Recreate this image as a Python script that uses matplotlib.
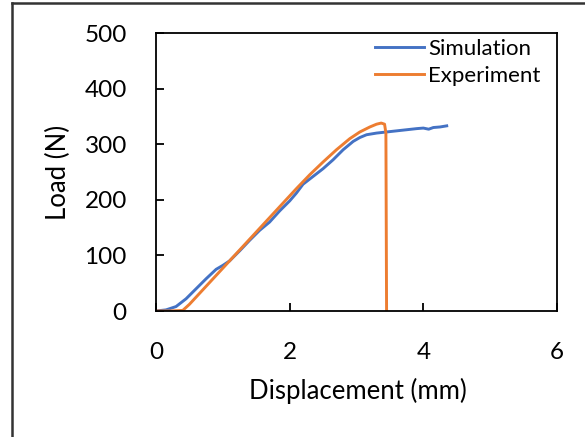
import matplotlib.pyplot as plt
from matplotlib.lines import Line2D

plt.rcParams['font.family'] = ['Lato', 'DejaVu Sans']

# Simulation curve
sim_x = [0, 0.15, 0.3, 0.45, 0.6, 0.75, 0.9, 1.0, 1.1, 1.25, 1.4, 1.55, 1.7,
         1.85, 2.0, 2.1, 2.2, 2.35, 2.5, 2.65, 2.8, 2.95, 3.05, 3.15, 3.3,
         3.45, 3.6, 3.75, 3.9, 4.0, 4.08, 4.15, 4.25, 4.35]
sim_y = [0, 2, 8, 22, 40, 58, 75, 82, 90, 108, 127, 145, 160, 180, 198, 212,
         228, 242, 256, 272, 290, 305, 312, 317, 320, 322, 324, 326, 328, 329,
         327, 330, 331, 333]

# Experiment curve
exp_x = [0, 0.2, 0.4, 0.5, 0.7, 0.9, 1.1, 1.3, 1.5, 1.7, 1.9, 2.1, 2.3, 2.5,
         2.7, 2.9, 3.05, 3.2, 3.3, 3.37, 3.42, 3.44, 3.45]
exp_y = [0, 0, 1, 12, 38, 64, 90, 116, 142, 168, 194, 220, 245, 268, 290,
         310, 322, 331, 336, 338, 336, 320, 0]

x_ticks = [0, 2, 4, 6]
y_ticks = [0, 100, 200, 300, 400, 500]

fig = plt.figure(figsize=(5.85, 4.37), dpi=100)
ax = fig.add_axes([156 / 585, 1 - 311 / 437, 401 / 585, 278 / 437])

ax.plot(sim_x, sim_y, color="#4472C4", lw=2.1, label="Simulation")
ax.plot(exp_x, exp_y, color="#ED7D31", lw=2.1, label="Experiment")

ax.set_xlim(0, 6)
ax.set_ylim(0, 500)
ax.set_xticks(x_ticks)
ax.set_yticks(y_ticks)
ax.tick_params(direction="in", length=6, width=1.3, labelsize=17.5)
ax.tick_params(axis="x", pad=22)
ax.tick_params(axis="y", pad=21)
for s in ax.spines.values():
    s.set_linewidth(1.3)
    s.set_color("black")

ax.set_xlabel("Displacement (mm)", fontsize=18.5)
ax.set_ylabel("Load (N)", fontsize=18.5)
ax.xaxis.set_label_coords(0.504, -0.24)
ax.yaxis.set_label_coords(-0.212, 0.5)

ax.legend(loc="upper left", frameon=False, fontsize=16, handlelength=2.2,
          handletextpad=0.18, borderpad=0, borderaxespad=0, labelspacing=0.3,
          bbox_to_anchor=((375 - 156) / 401, 0.978))

# outer frame of the chart
fig.add_artist(Line2D([11.5 / 585, 11.5 / 585], [0, 1 - 2.5 / 437],
                      color="#333333", lw=1.8, transform=fig.transFigure))
fig.add_artist(Line2D([11.5 / 585, 1], [1 - 2.5 / 437, 1 - 2.5 / 437],
                      color="#333333", lw=1.8, transform=fig.transFigure))

fig.savefig("out.png", dpi=100)
